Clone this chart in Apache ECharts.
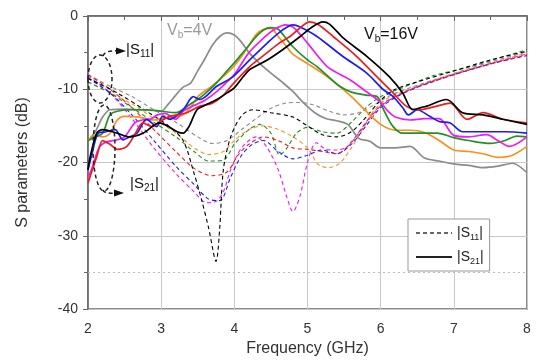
<!DOCTYPE html>
<html><head><meta charset="utf-8">
<script src="https://cdn.jsdelivr.net/npm/echarts@6/dist/echarts.min.js"></script>
<style>html,body{margin:0;padding:0;background:#fff}#c{width:539px;height:362px}</style>
</head><body><div id="c"></div>
<script>
// ---- tick labels ----
const xTicks = [2, 3, 4, 5, 6, 7, 8];
const yTicks = [-40, -30, -20, -10, 0];
const voltages = ['4V', '6V', '8V', '10V', '12V', '14V', '16V'];

// ---- |S21| (solid) ----
const f21Gray = [2.0,2.1,2.2,2.3,2.5,2.7,2.9,3.0,3.1,3.2,3.3,3.4,3.5,3.6,3.7,3.8,3.9,4.0,4.1,4.2,4.35,4.5,4.65,4.8,4.95,5.1,5.25,5.4,5.55,5.7,5.85,6.0,6.2,6.4,6.6,6.8,7.0,7.2,7.4,7.6,7.8,8.0];
const s21Gray = [-17,-15.8,-13.8,-12.8,-12.7,-12.8,-12.9,-13,-12,-10.8,-9.7,-9.2,-7.5,-5.8,-4,-2.8,-2.3,-2.6,-3.6,-5,-6.5,-7.8,-9,-10.3,-11.9,-13.2,-14,-14.3,-14.8,-16.7,-17.1,-18,-18,-17.8,-19.4,-19.8,-20.2,-20.4,-20.7,-20.5,-20.1,-21.4];

const f21Orange = [2.0,2.1,2.2,2.3,2.4,2.5,2.7,2.9,3.0,3.2,3.3,3.4,3.5,3.7,3.9,4.0,4.1,4.2,4.3,4.4,4.5,4.6,4.7,4.8,5.0,5.2,5.4,5.6,5.8,6.0,6.2,6.4,6.6,6.8,7.0,7.2,7.4,7.6,7.8,8.0];
const s21Orange = [-17,-16.3,-16.5,-16,-14.2,-13.7,-13.8,-14.2,-14,-13.8,-13.5,-12.5,-11,-9.5,-7.8,-6.8,-5.5,-4,-2.5,-1.8,-1.7,-2.8,-4,-5.2,-6.5,-7.8,-9.3,-11,-13,-14.8,-15.6,-15.6,-15.9,-17,-18.3,-18.5,-18.8,-19.3,-19,-17.8];

const f21Green = [2.0,2.1,2.2,2.3,2.4,2.6,2.8,3.0,3.2,3.4,3.5,3.6,3.76,3.9,4.0,4.1,4.2,4.3,4.4,4.5,4.6,4.7,4.8,5.0,5.13,5.3,5.44,5.6,5.8,5.95,6.05,6.17,6.3,6.5,6.77,7.0,7.2,7.5,7.7,7.86,8.0];
const s21Green = [-17,-16.5,-16,-13.5,-13,-12.8,-12.8,-13,-13.2,-12,-11.4,-10.6,-9.1,-7.5,-6.4,-5.2,-4,-2.8,-1.9,-1.6,-1.8,-3,-4.2,-6,-6.9,-8.4,-9.6,-10.4,-10.8,-11,-13,-15.1,-16,-16,-16,-16.6,-17,-17.4,-17,-16.4,-16.5];

const f21Magenta = [2.0,2.05,2.15,2.25,2.4,2.5,2.64,2.74,2.85,2.95,3.05,3.2,3.3,3.45,3.6,3.75,3.9,4.0,4.2,4.4,4.55,4.7,4.8,4.9,5.0,5.27,5.58,5.76,6.0,6.1,6.2,6.4,6.6,6.8,7.0,7.2,7.45,7.6,7.76,8.0];
const s21Magenta = [-22,-20.9,-18,-17.2,-16.9,-16.5,-14.6,-14.2,-14.1,-13.5,-13.3,-14.1,-13,-12.2,-11.5,-10.4,-9,-8,-5,-3,-1.8,-1.2,-1.5,-2.5,-3.7,-6.9,-8.7,-10,-11.8,-13,-13.8,-14.2,-14,-14,-16.3,-16.5,-16.2,-17,-17.8,-16.5];

const f21Blue = [2.0,2.05,2.14,2.25,2.37,2.48,2.57,2.67,2.8,2.94,3.02,3.12,3.3,3.44,3.53,3.76,3.98,4.21,4.45,4.66,4.8,4.9,5.13,5.48,5.81,6.03,6.17,6.3,6.38,6.5,6.67,6.8,6.95,7.12,7.3,7.5,7.7,8.0];
const s21Blue = [-21,-19,-16,-15.8,-15.5,-16.9,-16.5,-16,-14.1,-15.1,-13.7,-14.1,-12.8,-11,-11.4,-9.6,-8.3,-6,-3.7,-1.9,-1.2,-1.5,-2.8,-5.5,-7.8,-10,-11,-12.5,-13.5,-12.8,-13.7,-14.4,-14.6,-15.8,-15.8,-15.8,-15.8,-16];

const f21Red = [2.0,2.06,2.12,2.2,2.3,2.4,2.53,2.65,2.75,2.88,3.0,3.12,3.35,3.53,3.7,3.85,3.98,4.21,4.45,4.6,4.76,4.9,5.03,5.15,5.35,5.67,5.95,6.17,6.35,6.53,6.77,6.95,7.18,7.4,7.67,8.0];
const s21Red = [-22.8,-21,-19.2,-17,-17.5,-18.2,-17.8,-16,-14.6,-15.1,-14.3,-13.7,-13.2,-12.3,-11.9,-10.8,-9.3,-6.9,-5,-3.8,-2.8,-1.6,-0.8,-1.2,-2.8,-5.5,-8.3,-10.5,-12.3,-12.8,-12.3,-11.9,-14.1,-13.2,-14.1,-14.6];

const f21Black = [2.0,2.03,2.12,2.2,2.4,2.57,2.75,2.98,3.1,3.22,3.3,3.38,3.49,3.6,3.76,3.9,4.0,4.12,4.21,4.45,4.66,4.9,5.05,5.21,5.3,5.5,5.81,6.12,6.3,6.44,6.55,6.63,6.9,7.12,7.4,7.67,8.0];
const s21Black = [-21,-19.2,-16,-15.5,-16,-16.5,-16,-14.6,-15.1,-15.8,-16,-15.1,-12.8,-12.2,-11.4,-10.5,-9.8,-8.3,-7.3,-6,-4.6,-2.8,-1.6,-0.8,-1.1,-3.1,-5.5,-8.3,-10.5,-12.8,-12.5,-12.3,-11.4,-13.2,-13.5,-14.1,-14.8];

// ---- |S11| (dashed) ----
const f11Gray = [2.0,2.3,2.6,2.9,3.2,3.5,3.7,3.9,4.1,4.3,4.5,4.7,4.9,5.1,5.3,5.5,5.7,5.9,6.1,6.4,6.8,7.2,7.6,8.0];
const s11Gray = [-8,-9.6,-11,-12.8,-14.5,-16.5,-17.4,-17,-15.5,-14,-12.6,-11.9,-11.8,-12.2,-13,-13.5,-13.2,-12.2,-11,-9.8,-8.5,-7.2,-6,-4.9];

const f11Orange = [2.0,2.3,2.6,2.9,3.2,3.45,3.65,3.85,4.0,4.2,4.4,4.6,4.8,5.0,5.15,5.3,5.45,5.6,5.75,5.9,6.1,6.4,6.8,7.2,7.6,8.0];
const s11Orange = [-9,-10.5,-12,-14,-16,-18,-18.9,-18.5,-17,-15.5,-15,-15.5,-16.5,-18,-20.3,-20.7,-20,-18,-15.5,-13,-11.2,-10,-8.5,-7.3,-6.2,-5];

const f11Green = [2.0,2.3,2.6,2.9,3.2,3.45,3.65,3.85,4.0,4.2,4.35,4.5,4.62,4.72,4.85,5.0,5.2,5.4,5.6,5.8,6.0,6.3,6.7,7.2,7.6,8.0];
const s11Green = [-9,-10.5,-12.5,-14.5,-16.5,-18.5,-19.8,-19.7,-17.5,-15.5,-14.8,-16,-19,-18,-16,-15.2,-15.8,-16,-14.5,-12.5,-11,-9.8,-8.2,-7,-5.8,-4.6];

const f11Magenta = [2.0,2.3,2.6,2.9,3.2,3.45,3.62,3.75,3.85,3.95,4.1,4.3,4.45,4.6,4.72,4.8,4.9,5.0,5.12,5.25,5.4,5.55,5.7,5.85,6.0,6.3,6.7,7.2,7.6,8.0];
const s11Magenta = [-8.2,-10.5,-14,-18,-21.5,-24,-25.5,-25.3,-24,-21,-18,-16.5,-18,-21,-24.8,-26.7,-24.5,-20,-17.3,-18.2,-18.3,-17.8,-16,-14,-12.3,-10.5,-8.9,-7.4,-6.2,-5.2];

const f11Blue = [2.0,2.3,2.6,2.9,3.2,3.45,3.65,3.8,3.95,4.1,4.25,4.4,4.6,4.8,5.0,5.2,5.4,5.6,5.8,6.0,6.3,6.7,7.2,7.6,8.0];
const s11Blue = [-8.5,-10.5,-13.5,-17,-20.5,-23,-25,-25.2,-22,-19,-17.5,-17,-18.5,-19.5,-19,-18.3,-18.8,-17.5,-15,-12.5,-10.6,-9,-7.4,-6.3,-5.4];

const f11Red = [2.0,2.3,2.6,2.9,3.2,3.45,3.7,3.9,4.05,4.2,4.4,4.6,4.8,5.0,5.2,5.4,5.6,5.8,6.0,6.3,6.7,7.2,7.6,8.0];
const s11Red = [-8,-10,-12.5,-15.5,-18.5,-20.8,-21.8,-21.3,-19,-17.5,-16.5,-17,-18,-18.2,-18.5,-18.8,-17.2,-14.5,-12.2,-10.5,-9,-7.4,-6.3,-5.3];

const f11Black = [2.0,2.4,2.8,3.1,3.3,3.45,3.55,3.65,3.75,3.8,3.85,3.95,4.1,4.25,4.5,4.8,5.0,5.2,5.4,5.6,5.8,6.0,6.2,6.5,7.0,7.5,8.0];
const s11Black = [-8.5,-10.5,-13,-15,-17,-21.5,-25,-29,-33.5,-29,-21,-16.5,-13.6,-12.8,-13.2,-13.8,-15,-16.2,-16.5,-15.8,-13.8,-11.5,-10,-9,-7.5,-6,-4.8];

const colors = ['#8c8c8c','#f7901e','#229022','#f01cf0','#1c1cf0','#ee1c1c','#000000'];
const s21Sets = [[f21Gray,s21Gray],[f21Orange,s21Orange],[f21Green,s21Green],[f21Magenta,s21Magenta],[f21Blue,s21Blue],[f21Red,s21Red],[f21Black,s21Black]];
const s11Sets = [[f11Gray,s11Gray],[f11Orange,s11Orange],[f11Green,s11Green],[f11Magenta,s11Magenta],[f11Blue,s11Blue],[f11Red,s11Red],[f11Black,s11Black]];

const zip = (fx, vy) => fx.map((f, i) => [f, vy[i]]);
const FONT = 'Liberation Sans, Arial, sans-serif';

const series = [];
s11Sets.forEach((d, i) => series.push({
  name: 'S11 ' + voltages[i], type: 'line', data: zip(d[0], d[1]), smooth: 0.3,
  symbol: 'none', silent: true,
  lineStyle: { color: colors[i], width: 1.1, type: [4, 3] }
}));
s21Sets.forEach((d, i) => series.push({
  name: 'S21 ' + voltages[i], type: 'line', data: zip(d[0], d[1]), smooth: 0.3,
  symbol: 'none', silent: true,
  lineStyle: { color: colors[i], width: 1.7 }
}));
// legend-only series + -35 dotted reference line
series.push({ name: '|S11|', type: 'line', data: [], symbol: 'none', itemStyle:{color:'#666'},
  lineStyle: { color: '#666', width: 1.1, type: [4, 3] },
  markLine: { silent: true, symbol: 'none', label: { show: false },
    lineStyle: { color: '#bbb', type: [2, 3], width: 1 }, data: [{ yAxis: -35 }] } });
series.push({ name: '|S21|', type: 'line', data: [], symbol: 'none', itemStyle:{color:'#222'},
  lineStyle: { color: '#222', width: 2 } });

const chart = echarts.init(document.getElementById('c'), null, { renderer: 'canvas' });
const sub = { fontSize: 9, fontFamily: FONT, color: '#222', verticalAlign: 'bottom', lineHeight: 9 };
const subG = (c) => ({ s: { fontSize: 10, fontFamily: FONT, fill: c, verticalAlign: 'bottom', lineHeight: 9 } });
chart.setOption({
  animation: false,
  backgroundColor: '#fff',
  grid: { left: 88, right: 12, top: 16, bottom: 52, show: true, borderColor: '#666', borderWidth: 1.5 },
  xAxis: {
    type: 'value', min: xTicks[0], max: xTicks[xTicks.length - 1], interval: 1,
    name: 'Frequency (GHz)', nameLocation: 'middle', nameGap: 32,
    nameTextStyle: { fontSize: 16, fontFamily: FONT, color: '#333' },
    axisLine: { show: true, lineStyle: { color: '#666', width: 1.5 } },
    axisTick: { show: true, length: 5, lineStyle: { color: '#666' } },
    minorTick: { show: true, splitNumber: 2, length: 4, lineStyle: { color: '#666' } },
    axisLabel: { fontSize: 14, fontFamily: FONT, color: '#333', margin: 13 },
    splitLine: { show: true, lineStyle: { color: '#c8c8c8', width: 1 } }
  },
  yAxis: {
    type: 'value', min: yTicks[0], max: yTicks[yTicks.length - 1], interval: 10,
    name: 'S parameters (dB)', nameLocation: 'middle', nameGap: 57,
    nameTextStyle: { fontSize: 16, fontFamily: FONT, color: '#333' },
    axisLine: { show: true, lineStyle: { color: '#666', width: 1.5 } },
    axisTick: { show: true, length: 5, lineStyle: { color: '#666' } },
    minorTick: { show: true, splitNumber: 2, length: 4, lineStyle: { color: '#666' } },
    axisLabel: { fontSize: 14, fontFamily: FONT, color: '#333', margin: 10 },
    splitLine: { show: true, lineStyle: { color: '#c8c8c8', width: 1 } }
  },
  legend: {
    data: ['|S11|', '|S21|'], orient: 'vertical', left: 408, top: 219,
    backgroundColor: '#fff', borderColor: '#999', borderWidth: 1,
    padding: [5, 6, 5, 7], itemGap: 6, itemWidth: 36, itemHeight: 14,
    itemStyle: { opacity: 0 },
    formatter: n => n === '|S11|' ? '|S{s|11}|' : '|S{s|21}|',
    textStyle: { fontSize: 14, fontFamily: FONT, color: '#222', lineHeight: 18, rich: { s: sub } }
  },
  series: series,
  graphic: [
    { type: 'text', left: 167, top: 21, style: { text: 'V{s|b}=4V', fontSize: 16, fontFamily: FONT, fill: '#9a9a9a', lineHeight: 19, rich: subG('#9a9a9a') } },
    { type: 'text', left: 364, top: 25, style: { text: 'V{s|b}=16V', fontSize: 16, fontFamily: FONT, fill: '#111', lineHeight: 19, rich: subG('#111') } },
    { type: 'ellipse', shape: { cx: 100, cy: 79, rx: 12, ry: 24 }, style: { fill: 'none', stroke: '#222', lineWidth: 1.5, lineDash: [4, 3] }, z: 100 },
    { type: 'ellipse', shape: { cx: 104, cy: 148, rx: 11, ry: 43 }, style: { fill: 'none', stroke: '#222', lineWidth: 1.5, lineDash: [4, 3] }, z: 100 },
    { type: 'bezierCurve', shape: { x1: 103, y1: 56, cpx1: 105, cpy1: 50, x2: 118, y2: 51 }, style: { fill: 'none', stroke: '#222', lineWidth: 1.5, lineDash: [4, 3] }, z: 100 },
    { type: 'polygon', shape: { points: [[116, 47.5], [126, 51], [116, 54.5]] }, style: { fill: '#111' }, z: 100 },
    { type: 'bezierCurve', shape: { x1: 103, y1: 190, cpx1: 104, cpy1: 194, x2: 115, y2: 193 }, style: { fill: 'none', stroke: '#222', lineWidth: 1.5, lineDash: [4, 3] }, z: 100 },
    { type: 'polygon', shape: { points: [[114, 189.5], [124, 193], [114, 196.5]] }, style: { fill: '#111' }, z: 100 },
    { type: 'text', left: 126, top: 41, style: { text: '|S{s|11}|', fontSize: 15, fontFamily: FONT, fill: '#111', lineHeight: 18, rich: subG('#111') }, z: 100 },
    { type: 'text', left: 130, top: 175, style: { text: '|S{s|21}|', fontSize: 15, fontFamily: FONT, fill: '#111', lineHeight: 18, rich: subG('#111') }, z: 100 }
  ]
});
</script></body></html>
